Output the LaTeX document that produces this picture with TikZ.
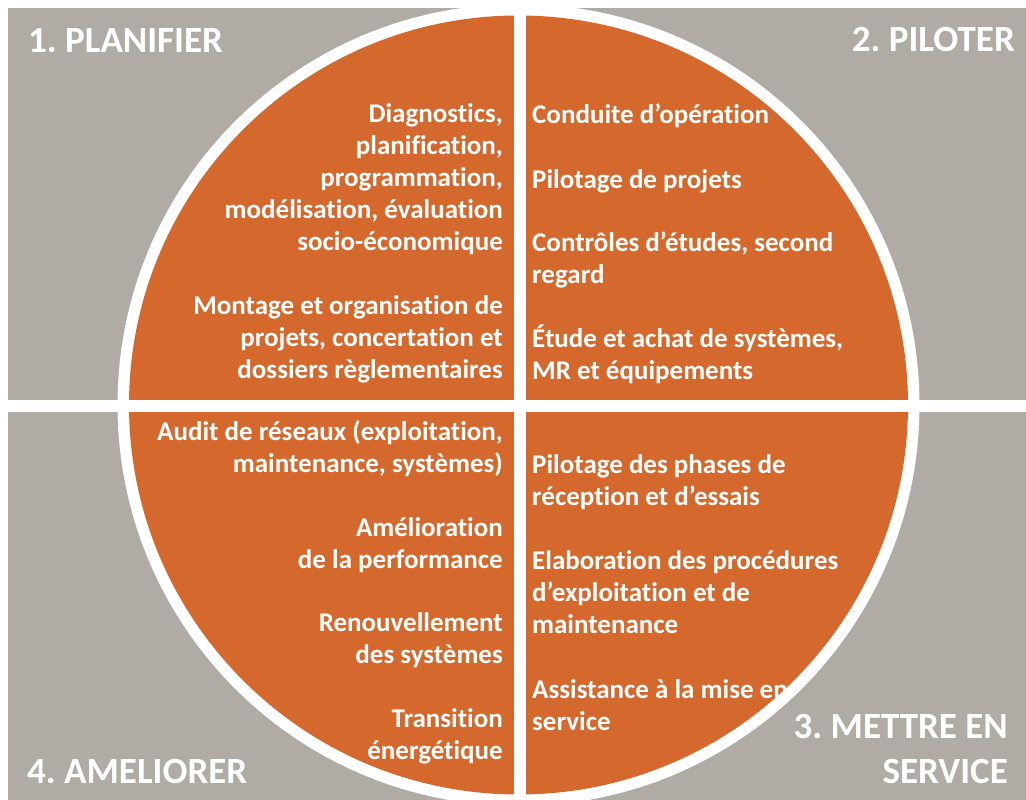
\documentclass[tikz,border=0pt]{standalone}
\usepackage{fontspec}
\setmainfont{Carlito}[Ligatures=NoCommon]
\definecolor{quadgrey}{RGB}{176,171,165}
\definecolor{wheelorange}{RGB}{213,104,44}

\begin{document}
\frenchspacing
\begin{tikzpicture}[x=1pt,y=-1pt,
    item/.style={text=white,font=\fontsize{27}{32}\selectfont\bfseries,inner sep=0pt},
    itemleft/.style={item,align=right,anchor=base east},
    itemright/.style={item,align=left,anchor=base west},
    phase/.style={text=white,font=\fontsize{37}{45}\selectfont\bfseries,inner sep=0pt}]
  \useasboundingbox (0,0) rectangle (1026,800);
  % background, wheel and cross
  \fill[white] (0,0) rectangle (1026,800);
  \fill[quadgrey] (8,8) rectangle (1026,800);
  \fill[white] (518.5,405) circle (401);
  \fill[wheelorange] (518.5,405) circle (389.5);
  \fill[white] (513.5,0) rectangle (525.5,800);
  \fill[white] (8,400) rectangle (1026,412);
  % phases (anchored on the last line)
  \node[phase,anchor=base west] (planifier) at (28,53) {1. PLANIFIER};
  \node[phase,anchor=base east] (piloter) at (1015,52) {2. PILOTER};
  \node[phase,align=right,anchor=base east] (service) at (1008,783) {3. METTRE EN\\SERVICE};
  \node[phase,anchor=base west] (ameliorer) at (27,783) {4. AMELIORER};
  % 1. planifier
  \node[itemleft] (diag) at (503,250) {Diagnostics,\\planification,\\programmation,\\modélisation, évaluation\\socio-économique};
  \node[itemleft] (montage) at (503,378) {Montage et organisation de\\projets, concertation et\\dossiers règlementaires};
  % 2. piloter
  \node[itemright] (conduite) at (532,124) {Conduite d’opération};
  \node[itemright] (pilotage) at (532,188) {Pilotage de projets};
  \node[itemright] (controle) at (532,283) {Contrôles d’études, second\\regard};
  \node[itemright] (achat) at (532,379) {Étude et achat de systèmes,\\MR et équipements};
  % 3. mettre en service
  \node[itemright] (reception) at (532,505) {Pilotage des phases de\\réception et d’essais};
  \node[itemright] (procedure) at (532,633) {Elaboration des procédures\\d’exploitation et de\\maintenance};
  \node[itemright] (assistance) at (532,730) {Assistance à la mise en\\service};
  % 4. ameliorer
  \node[itemleft] (audit) at (503,472) {Audit de réseaux (exploitation,\\maintenance, systèmes)};
  \node[itemleft] (perf) at (503,568) {Amélioration\\de la performance};
  \node[itemleft] (renouv) at (503,663) {Renouvellement\\des systèmes};
  \node[itemleft] (transition) at (503,759) {Transition\\énergétique};
\end{tikzpicture}
\end{document}
